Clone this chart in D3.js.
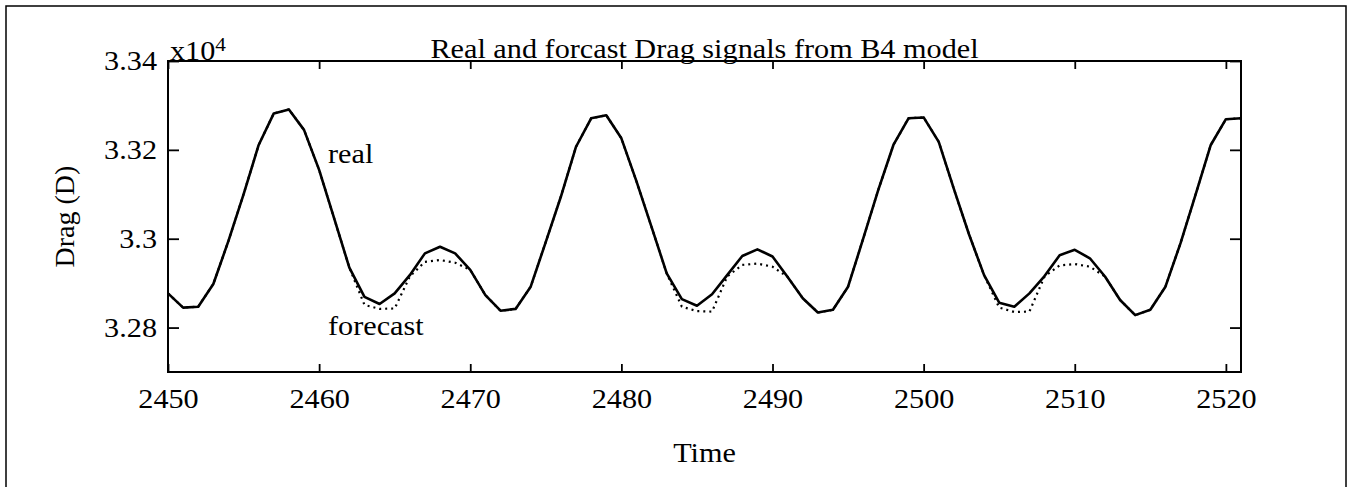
<!DOCTYPE html>
<html>
<head>
<meta charset="utf-8">
<script src="https://cdn.jsdelivr.net/npm/d3@7"></script>
<style>
  body { margin: 0; background: #fff; }
  text { font-family: "Liberation Serif", "Times New Roman", serif; fill: #000; }
</style>
</head>
<body>
<div id="graph"></div>
<script>
// time steps (x axis)
var time = [2450, 2451, 2452, 2453, 2454, 2455, 2456, 2457, 2458, 2459,
            2460, 2461, 2462, 2463, 2464, 2465, 2466, 2467, 2468, 2469,
            2470, 2471, 2472, 2473, 2474, 2475, 2476, 2477, 2478, 2479,
            2480, 2481, 2482, 2483, 2484, 2485, 2486, 2487, 2488, 2489,
            2490, 2491, 2492, 2493, 2494, 2495, 2496, 2497, 2498, 2499,
            2500, 2501, 2502, 2503, 2504, 2505, 2506, 2507, 2508, 2509,
            2510, 2511, 2512, 2513, 2514, 2515, 2516, 2517, 2518, 2519,
            2520, 2521];

// drag, in units of 10^4
var real = [3.2877, 3.2845, 3.2847, 3.2898, 3.2995, 3.3100, 3.3211, 3.3282, 3.3291, 3.3245,
            3.3155, 3.3045, 3.2935, 3.2869, 3.2853, 3.2877, 3.2918, 3.2967, 3.2982, 3.2967,
            3.2930, 3.2873, 3.2838, 3.2842, 3.2892, 3.2993, 3.3095, 3.3207, 3.3271, 3.3278,
            3.3226, 3.3129, 3.3026, 3.2922, 3.2864, 3.2849, 3.2875, 3.2918, 3.2961, 3.2976,
            3.2960, 3.2914, 3.2866, 3.2834, 3.2840, 3.2892, 3.3000, 3.3110, 3.3211, 3.3271,
            3.3273, 3.3218, 3.3112, 3.3010, 3.2918, 3.2856, 3.2847, 3.2877, 3.2916, 3.2963,
            3.2975, 3.2956, 3.2915, 3.2862, 3.2828, 3.2840, 3.2892, 3.2990, 3.3100, 3.3211,
            3.3269, 3.3271];

var forecast = [3.2877, 3.2845, 3.2847, 3.2898, 3.2995, 3.3100, 3.3211, 3.3282, 3.3291, 3.3245,
                3.3155, 3.3045, 3.2935, 3.2851, 3.2842, 3.2843, 3.2915, 3.2948, 3.2952, 3.2946,
                3.2930, 3.2873, 3.2838, 3.2842, 3.2892, 3.2993, 3.3095, 3.3207, 3.3271, 3.3278,
                3.3226, 3.3129, 3.3026, 3.2922, 3.2847, 3.2837, 3.2836, 3.2915, 3.2941, 3.2944,
                3.2937, 3.2914, 3.2866, 3.2834, 3.2840, 3.2892, 3.3000, 3.3110, 3.3211, 3.3271,
                3.3273, 3.3218, 3.3112, 3.3010, 3.2918, 3.2845, 3.2835, 3.2836, 3.2915, 3.2940,
                3.2943, 3.2937, 3.2915, 3.2862, 3.2828, 3.2840, 3.2892, 3.2990, 3.3100, 3.3211,
                3.3269, 3.3271];

var xTicks = [2450, 2460, 2470, 2480, 2490, 2500, 2510, 2520];
var yTicks = [3.28, 3.30, 3.32, 3.34];
var yTickLabels = ["3.28", "3.3", "3.32", "3.34"];

var W = 1351, H = 487;
var plotL = 168, plotR = 1241, plotT = 61, plotB = 372;
var sx = 1.12; // the scanned lettering is a bit wider than it is tall
var serif = "'Liberation Serif', 'Times New Roman', serif";

var svg = d3.select("#graph").append("svg")
    .attr("width", W)
    .attr("height", H);

// page frame
svg.append("rect")
    .attr("x", 6).attr("y", 6)
    .attr("width", 1340).attr("height", 500)
    .attr("fill", "none")
    .attr("stroke", "#000")
    .attr("stroke-width", 1.5);

var xScale = d3.scaleLinear().domain([2450, 2521]).range([plotL, plotR]);
var yScale = d3.scaleLinear().domain([3.27, 3.34]).range([plotB, plotT]);

var rows = time.map(function(t, i) { return {t: t, real: real[i], fc: forecast[i]}; });

// axes, ticks pointing inward
var gx = svg.append("g")
    .attr("transform", "translate(0," + plotB + ")")
    .call(d3.axisBottom(xScale).tickValues(xTicks).tickFormat(d3.format("d"))
        .tickSize(-8).tickSizeOuter(0).tickPadding(17));
var gxt = svg.append("g")
    .attr("transform", "translate(0," + plotT + ")")
    .call(d3.axisTop(xScale).tickValues(xTicks).tickFormat("").tickSize(-8).tickSizeOuter(0));
var gy = svg.append("g")
    .attr("transform", "translate(" + plotL + ",0)")
    .call(d3.axisLeft(yScale).tickValues(yTicks)
        .tickFormat(function(d, i) { return yTickLabels[i]; })
        .tickSize(-11).tickSizeOuter(0).tickPadding(11));
var gyr = svg.append("g")
    .attr("transform", "translate(" + plotR + ",0)")
    .call(d3.axisRight(yScale).tickValues(yTicks).tickFormat("").tickSize(-11).tickSizeOuter(0));

svg.selectAll(".domain").remove();
svg.selectAll("g").attr("font-family", serif);
svg.selectAll(".tick line").attr("stroke", "#000").attr("stroke-width", 1.8);
svg.selectAll(".tick text")
    .style("font-family", serif)
    .style("font-size", "27px");
gx.selectAll(".tick text").attr("transform", "scale(" + sx + ",1)");
gy.selectAll(".tick text")
    .attr("x", -11 / sx)
    .attr("transform", "scale(" + sx + ",1)");

// plot box
svg.append("rect")
    .attr("x", plotL).attr("y", plotT)
    .attr("width", plotR - plotL).attr("height", plotB - plotT)
    .attr("fill", "none")
    .attr("stroke", "#000")
    .attr("stroke-width", 2);

// series
var lineFc = d3.line()
    .x(function(d) { return xScale(d.t); })
    .y(function(d) { return yScale(d.fc); });
var lineReal = d3.line()
    .x(function(d) { return xScale(d.t); })
    .y(function(d) { return yScale(d.real); });

svg.append("path")
    .datum(rows)
    .attr("d", lineFc)
    .attr("fill", "none")
    .attr("stroke", "#000")
    .attr("stroke-width", 2.2)
    .attr("stroke-dasharray", "2,4");

svg.append("path")
    .datum(rows)
    .attr("d", lineReal)
    .attr("fill", "none")
    .attr("stroke", "#000")
    .attr("stroke-width", 2.6)
    .attr("stroke-linejoin", "round");

// labels
function label(str, x, y, size, anchor) {
    return svg.append("text")
        .attr("transform", "translate(" + x + "," + y + ") scale(" + sx + ",1)")
        .attr("text-anchor", anchor)
        .style("font-size", size + "px")
        .text(str);
}

label("Real and forcast Drag signals from B4 model", (plotL + plotR) / 2, 58, 27, "middle");
var mult = label("x10", 170, 60, 27, "start");
mult.append("tspan").attr("dy", -9).style("font-size", "19px").text("4");
label("real", 328, 163, 27, "start");
label("forecast", 328, 335, 27, "start");
label("Time", (plotL + plotR) / 2, 462, 27, "middle");

svg.append("text")
    .attr("transform", "translate(74," + (plotT + plotB) / 2 + ") rotate(-90)")
    .attr("text-anchor", "middle")
    .style("font-size", "28px")
    .text("Drag (D)");
</script>
</body>
</html>
